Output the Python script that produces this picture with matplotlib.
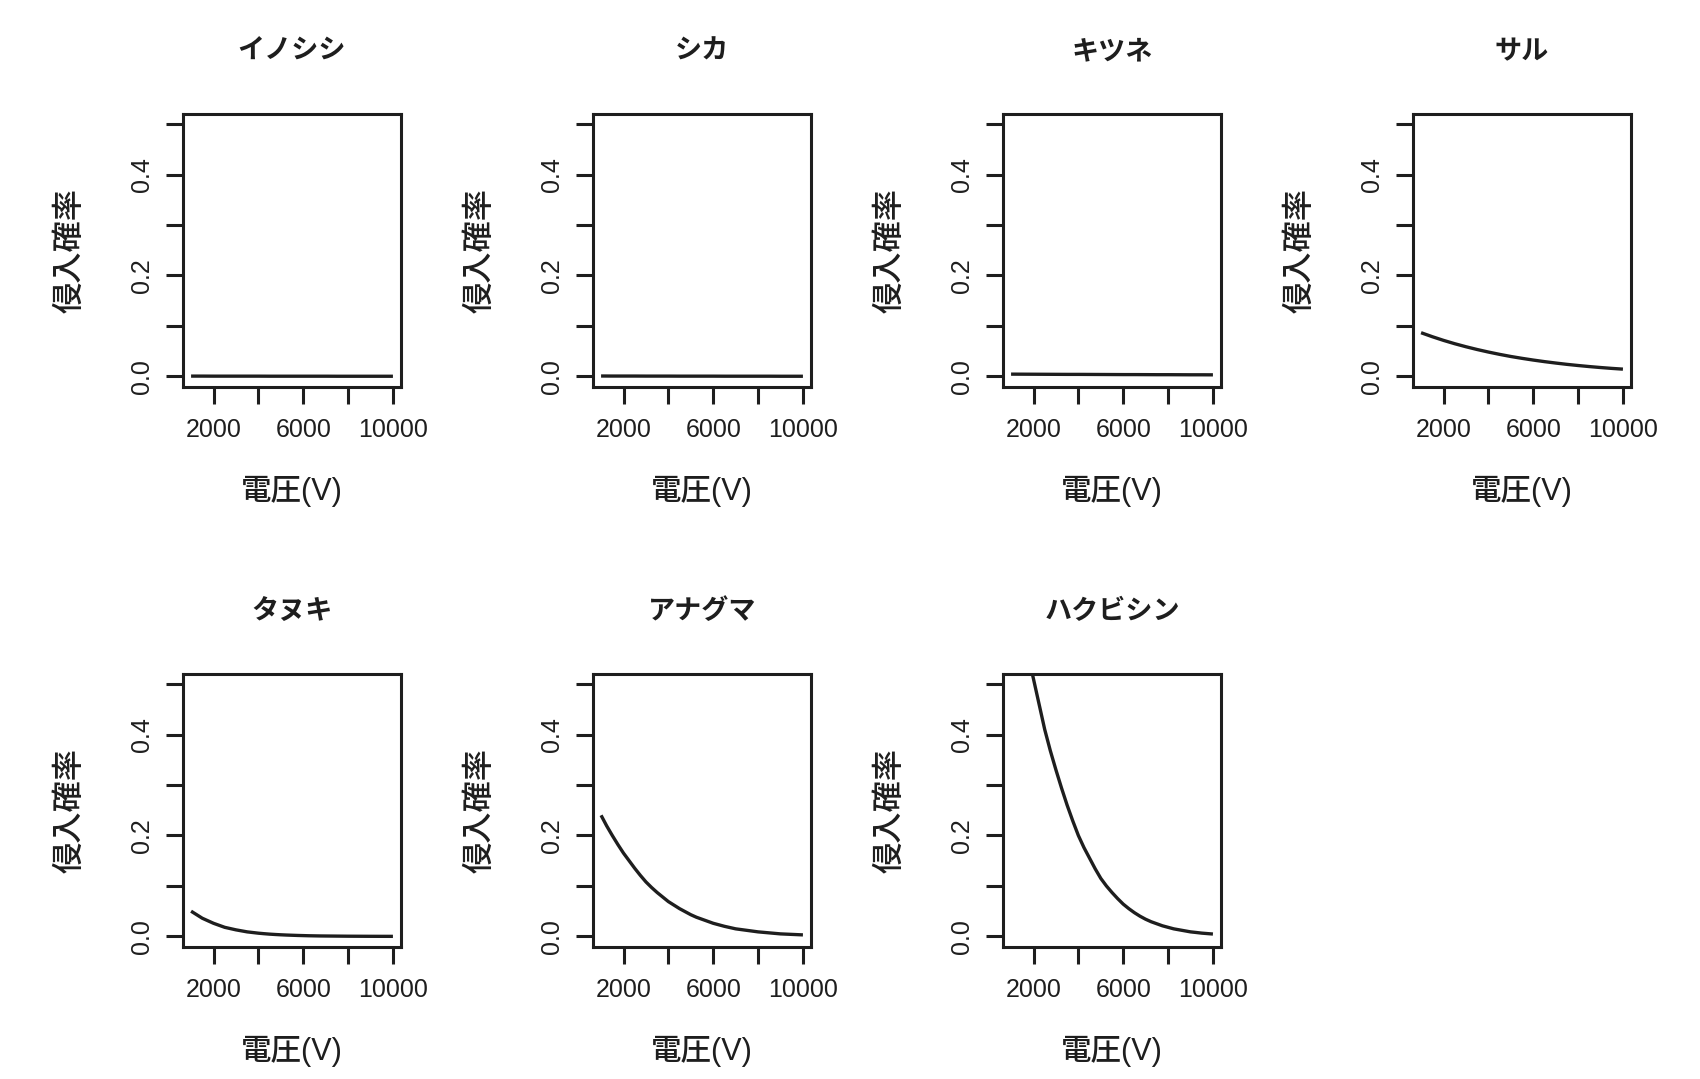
import matplotlib
matplotlib.use("Agg")
import matplotlib.pyplot as plt

plt.rcParams['font.family'] = ['Liberation Sans', 'Noto Sans CJK JP', 'DejaVu Sans']

# ---- data ----
animals = ["イノシシ", "シカ", "キツネ", "サル", "タヌキ", "アナグマ", "ハクビシン"]
voltage = [1000, 1500, 2000, 2500, 3000, 3500, 4000, 4500, 5000, 5500,
           6000, 6500, 7000, 7500, 8000, 8500, 9000, 9500, 10000]
voltage_fine = [1000, 1250, 1500, 1750, 2000, 2250, 2500, 2750, 3000, 3250,
                3500, 3750, 4000, 4250, 4500, 4750, 5000, 5250, 5500, 5750,
                6000, 6250, 6500, 6750, 7000, 7250, 7500, 7750, 8000, 8250,
                8500, 8750, 9000, 9250, 9500, 9750, 10000]

p_inoshishi = [0.0006, 0.0006, 0.0005, 0.0005, 0.0005, 0.0005, 0.0005, 0.0004, 0.0004, 0.0004,
               0.0004, 0.0004, 0.0004, 0.0003, 0.0003, 0.0003, 0.0003, 0.0003, 0.0003]
p_shika = [0.0008, 0.0007, 0.0007, 0.0007, 0.0006, 0.0006, 0.0006, 0.0005, 0.0005, 0.0005,
           0.0005, 0.0004, 0.0004, 0.0004, 0.0004, 0.0004, 0.0003, 0.0003, 0.0003]
p_kitsune = [0.0045, 0.0044, 0.0043, 0.0042, 0.0041, 0.0040, 0.0040, 0.0039, 0.0038, 0.0037,
             0.0036, 0.0036, 0.0035, 0.0034, 0.0034, 0.0033, 0.0032, 0.0032, 0.0031]
p_saru = [0.0866, 0.0787, 0.0714, 0.0648, 0.0588, 0.0533, 0.0483, 0.0437, 0.0395, 0.0358,
          0.0324, 0.0293, 0.0265, 0.0239, 0.0216, 0.0195, 0.0176, 0.0159, 0.0144]
p_tanuki = [0.050, 0.043, 0.036, 0.031, 0.026, 0.022, 0.018, 0.0155, 0.013, 0.011,
            0.009, 0.0077, 0.0064, 0.0054, 0.0045, 0.0038, 0.0032, 0.0027, 0.0023, 0.0019,
            0.0016, 0.0013, 0.0011, 0.0009, 0.0008, 0.0007, 0.0006, 0.0005, 0.0004, 0.00035,
            0.0003, 0.00025, 0.0002, 0.00017, 0.00014, 0.00012, 0.0001]
p_anaguma = [0.240, 0.219, 0.200, 0.182, 0.165, 0.150, 0.135, 0.121, 0.108, 0.097,
             0.087, 0.078, 0.069, 0.062, 0.055, 0.049, 0.043, 0.038, 0.034, 0.030,
             0.026, 0.023, 0.020, 0.0175, 0.015, 0.0135, 0.012, 0.0105, 0.009, 0.008,
             0.007, 0.006, 0.005, 0.0045, 0.004, 0.0035, 0.003]
p_hakubishin = [0.690, 0.650, 0.610, 0.560, 0.510, 0.460, 0.410, 0.368, 0.330, 0.294,
                0.260, 0.229, 0.200, 0.176, 0.155, 0.134, 0.115, 0.100, 0.087, 0.075,
                0.064, 0.055, 0.047, 0.040, 0.034, 0.029, 0.025, 0.021, 0.018, 0.015,
                0.013, 0.011, 0.009, 0.0078, 0.0065, 0.0056, 0.0047]
series = [(voltage, p_inoshishi), (voltage, p_shika), (voltage, p_kitsune), (voltage, p_saru),
          (voltage_fine, p_tanuki), (voltage_fine, p_anaguma), (voltage_fine, p_hakubishin)]

x_ticks = [2000, 4000, 6000, 8000, 10000]
x_ticklabels = ["2000", "", "6000", "", "10000"]
y_ticks = [0.0, 0.1, 0.2, 0.3, 0.4, 0.5]
y_ticklabels = ["0.0", "", "0.2", "", "0.4", ""]
xlabel = "電圧(V)"
ylabel = "侵入確率"

# ---- layout (pixels) ----
W, H = 1700, 1079
col_left = [183, 593, 1003, 1413]
row_top = [114, 674]
aw, ah = 218, 272.5
ink = "#1e1e1e"

fig = plt.figure(figsize=(W / 100, H / 100), dpi=100)
fig.patch.set_facecolor("white")

for i, (name, (xs, vals)) in enumerate(zip(animals, series)):
    r, c = divmod(i, 4)
    left = col_left[c] / W
    bottom = (H - row_top[r] - ah) / H
    ax = fig.add_axes([left, bottom, aw / W, ah / H])
    ax.plot(xs, vals, color=ink, lw=2.4, solid_capstyle="butt", solid_joinstyle="round")
    ax.set_xlim(640, 10360)
    ax.set_ylim(-0.02, 0.52)
    for s in ax.spines.values():
        s.set_linewidth(2.2)
        s.set_color(ink)
    ax.set_xticks(x_ticks)
    ax.set_xticklabels(x_ticklabels)
    ax.set_yticks(y_ticks)
    ax.set_yticklabels(y_ticklabels)
    ax.tick_params(axis="both", direction="out", length=12, width=2.2, color=ink,
                   labelsize=18, labelcolor=ink)
    ax.tick_params(axis="x", pad=11)
    ax.tick_params(axis="y", pad=9)
    for lab in ax.get_yticklabels():
        lab.set_rotation(90)
        lab.set_va("center")
    ax.text(0.5, 1 + 62 / ah, name, transform=ax.transAxes, ha="center", va="center",
            fontsize=19.5, fontweight="bold", color=ink)
    ax.text(0.5, -(492 - 386.7) / ah, xlabel, transform=ax.transAxes, ha="center",
            va="center", fontsize=22, fontweight="medium", color=ink)
    ax.text(-(183 - 70) / aw, 0.5, ylabel, transform=ax.transAxes, ha="center",
            va="center", rotation=90, fontsize=22.5, fontweight="medium", color=ink)

fig.savefig("out.png", dpi=100, facecolor="white")
